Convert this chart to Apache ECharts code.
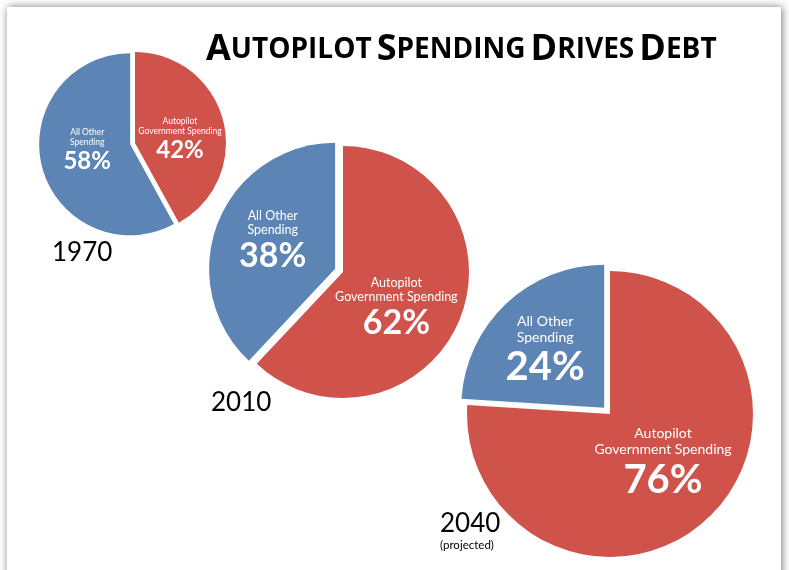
<!DOCTYPE html>
<html><head><meta charset="utf-8">
<script src="https://cdn.jsdelivr.net/npm/echarts@6/dist/echarts.min.js"></script>
<style>html,body{margin:0;padding:0;background:#fff}#c{width:789px;height:570px}</style>
</head><body><div id="c"></div>
<script>
const years = ['1970', '2010', '2040'];
const yearNotes = ['', '', '(projected)'];
const categories = ['Autopilot Government Spending', 'All Other Spending'];
const categoryLines = [['Autopilot', 'Government Spending'], ['All Other', 'Spending']];
const autopilotShare = [42, 62, 76];
const otherShare = [58, 38, 24];

const RED = '#cf524b';
const BLUE = '#5c85b5';

// layout per pie (positions / sizes only)
const pieLayout = [
  { center: [135, 143], radius: 91, offset: 5, t: 8.5, tl: 10, p: 24, pl: 28, shift: [[-2, 9.5], [4, -5]] },
  { center: [343, 272], radius: 126, offset: 8.5, t: 12.5, tl: 14, p: 34, pl: 38, shift: [[-8, 12.5], [-1, -2.5]] },
  { center: [610, 414], radius: 143, offset: 8.5, t: 14, tl: 16, p: 40, pl: 44, shift: [[2, -4.5], [-8, -2]] }
];
const yearPos = [
  { left: 52, top: 240 }, { left: 211, top: 390 }, { left: 440, top: 511 }
];

const chart = echarts.init(document.getElementById('c'), null, { renderer: 'canvas' });

const series = years.map((y, i) => {
  const L = pieLayout[i];
  const vals = [autopilotShare[i], otherShare[i]];
  return {
    type: 'pie',
    name: y,
    center: L.center,
    radius: L.radius,
    startAngle: 90,
    clockwise: true,
    selectedMode: 'multiple',
    selectedOffset: L.offset,
    animation: false,
    silent: true,
    emphasis: { disabled: true },
    labelLine: { show: false },
    labelLayout: (p) => ({ dx: L.shift[p.dataIndex][0], dy: L.shift[p.dataIndex][1] }),
    label: {
      show: true,
      position: 'inside',
      color: '#fff',
      fontFamily: 'Lato, "Open Sans", sans-serif',
      formatter: (p) => {
        const lines = categoryLines[p.dataIndex].map(s => '{t|' + s + '}').join('\n');
        return lines + '\n{p|' + p.value + '%}';
      },
      rich: {
        t: { fontSize: L.t, lineHeight: L.tl, color: '#fff', fontFamily: 'Lato, sans-serif', align: 'center' },
        p: { fontSize: L.p, lineHeight: L.pl, color: '#fff', fontWeight: 'bold', fontFamily: 'Lato, sans-serif', align: 'center' }
      }
    },
    data: vals.map((v, k) => ({
      name: categories[k],
      value: v,
      selected: k === 1,
      itemStyle: { color: k === 0 ? RED : BLUE }
    }))
  };
});

const TF = '"Open Sans", sans-serif';
const titles = [{
  text: '{b|A}{s|UTOPILOT} {b|S}{s|PENDING} {b|D}{s|RIVES} {b|D}{s|EBT}',
  left: 206, top: 32, padding: 0,
  textStyle: {
    rich: {
      b: { fontSize: 36, fontWeight: 'bold', color: '#000', fontFamily: TF },
      s: { fontSize: 28, fontWeight: 'bold', color: '#000', fontFamily: TF }
    }
  }
}];
years.forEach((y, i) => {
  titles.push({
    text: y,
    subtext: yearNotes[i],
    left: yearPos[i].left, top: yearPos[i].top,
    padding: 0,
    itemGap: 2,
    textStyle: { fontSize: 26, fontWeight: 'normal', color: '#000', fontFamily: 'Lato, sans-serif' },
    subtextStyle: { fontSize: 11.5, color: '#000', fontFamily: 'Lato, sans-serif' }
  });
});

chart.setOption({
  backgroundColor: '#ffffff',
  animation: false,
  graphic: [{
    type: 'rect', z: -10, silent: true,
    shape: { x: 7, y: 7, width: 774, height: 620 },
    style: { fill: '#fff', shadowBlur: 8, shadowColor: 'rgba(0,0,0,0.55)', shadowOffsetX: 1, shadowOffsetY: 0 }
  }],
  title: titles,
  series: series
});
</script></body></html>
